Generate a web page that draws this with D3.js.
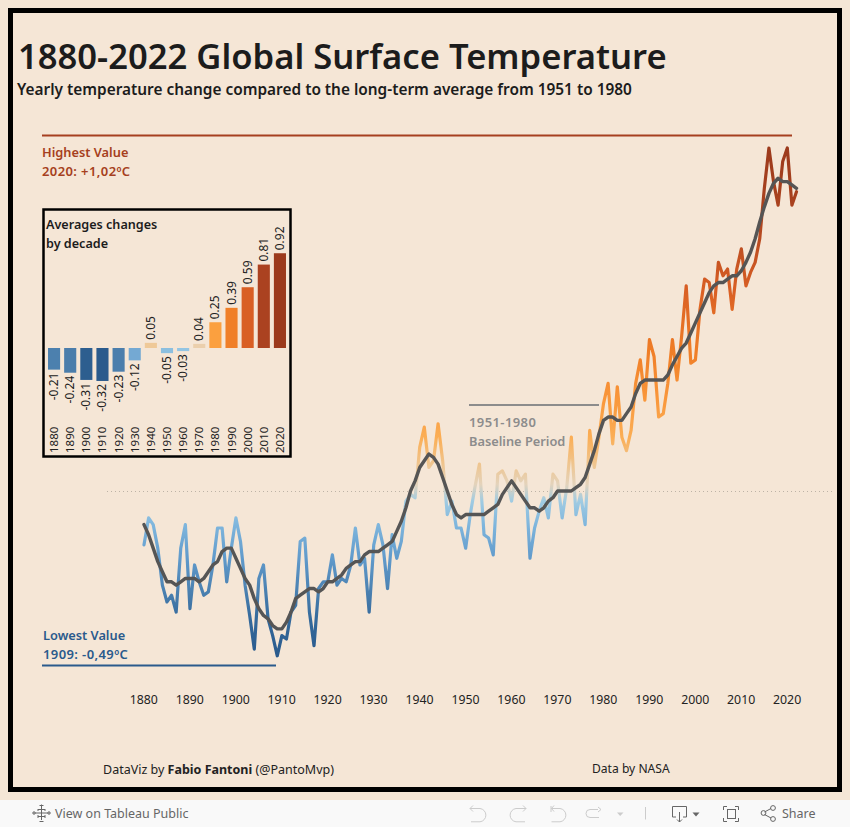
<!DOCTYPE html>
<html><head><meta charset="utf-8">
<script src="https://cdn.jsdelivr.net/npm/d3@7"></script>
<style>
html,body{margin:0;padding:0;background:#f5e6d6;overflow:hidden}
svg{display:block}
text{font-family:"Noto Sans",sans-serif}
</style></head><body>
<svg id="c" width="850" height="827"></svg>
<script>
const startYear = 1880;
const annual = [-0.16,-0.08,-0.10,-0.17,-0.28,-0.33,-0.31,-0.36,-0.17,-0.10,
-0.35,-0.22,-0.27,-0.31,-0.30,-0.22,-0.11,-0.11,-0.27,-0.17,
-0.08,-0.15,-0.28,-0.37,-0.47,-0.26,-0.22,-0.38,-0.43,-0.49,
-0.43,-0.44,-0.36,-0.34,-0.15,-0.14,-0.36,-0.46,-0.29,-0.27,
-0.27,-0.19,-0.28,-0.26,-0.27,-0.22,-0.11,-0.22,-0.20,-0.36,
-0.16,-0.10,-0.16,-0.29,-0.13,-0.20,-0.15,-0.03,-0.01,-0.02,
0.13,0.19,0.07,0.09,0.20,0.09,-0.07,-0.03,-0.11,-0.11,
-0.17,-0.07,0.01,0.08,-0.13,-0.14,-0.19,0.05,0.06,0.03,
-0.03,0.06,0.03,0.05,-0.20,-0.11,-0.06,-0.02,-0.08,0.05,
0.03,-0.08,0.01,0.16,-0.07,-0.01,-0.10,0.18,0.07,0.16,
0.26,0.32,0.14,0.31,0.16,0.12,0.18,0.32,0.39,0.27,
0.45,0.40,0.22,0.23,0.32,0.45,0.33,0.46,0.61,0.38,
0.39,0.54,0.63,0.62,0.53,0.68,0.64,0.66,0.54,0.66,
0.72,0.61,0.65,0.68,0.75,0.90,1.02,0.92,0.85,0.98,
1.02,0.85,0.89];
const smooth = [-0.10,-0.13,-0.17,-0.21,-0.24,-0.27,-0.27,-0.28,-0.27,-0.26,
-0.26,-0.26,-0.27,-0.26,-0.24,-0.22,-0.21,-0.18,-0.17,-0.17,
-0.20,-0.23,-0.26,-0.28,-0.32,-0.35,-0.37,-0.38,-0.40,-0.41,
-0.41,-0.39,-0.36,-0.32,-0.31,-0.30,-0.29,-0.29,-0.30,-0.29,
-0.27,-0.27,-0.26,-0.25,-0.23,-0.22,-0.21,-0.21,-0.19,-0.18,
-0.18,-0.18,-0.17,-0.16,-0.15,-0.12,-0.09,-0.05,0.00,0.03,
0.07,0.09,0.11,0.10,0.08,0.04,0.00,-0.04,-0.07,-0.08,
-0.07,-0.07,-0.07,-0.07,-0.07,-0.06,-0.05,-0.04,-0.01,0.01,
0.03,0.01,-0.01,-0.03,-0.05,-0.05,-0.06,-0.05,-0.03,-0.02,
0.00,0.00,0.00,0.00,0.01,0.02,0.04,0.08,0.12,0.17,
0.21,0.22,0.22,0.21,0.21,0.23,0.25,0.29,0.32,0.33,
0.33,0.33,0.33,0.33,0.345,0.375,0.40,0.425,0.44,0.47,
0.50,0.53,0.56,0.59,0.61,0.62,0.62,0.63,0.64,0.64,
0.655,0.68,0.71,0.75,0.80,0.845,0.885,0.915,0.93,0.92,
0.92,0.91,0.90];
const axisYears = d3.range(1880,2021,10);
const decades = ["1880","1890","1900","1910","1920","1930","1940","1950","1960","1970","1980","1990","2000","2010","2020"];
const decadeValues = [-0.21,-0.24,-0.31,-0.32,-0.23,-0.12,0.05,-0.05,-0.03,0.04,0.25,0.39,0.59,0.81,0.92];

const colorStops = [
 [-0.49,"#2a5a8c"],[-0.38,"#356a9c"],[-0.30,"#4a80b0"],[-0.20,"#609acb"],[-0.10,"#7fb6dd"],[-0.03,"#a0cbe2"],
 [0.02,"#e4d3bb"],[0.08,"#efc58f"],[0.16,"#fbae55"],[0.28,"#f9963a"],[0.42,"#ef7d27"],
 [0.60,"#d95f24"],[0.80,"#ae4520"],[1.02,"#9c3a1c"]];
const barStops = [
 [-0.32,"#2a5a8c"],[-0.31,"#2d5e8f"],[-0.24,"#4a7dab"],[-0.21,"#4c80ae"],[-0.12,"#74a9d3"],[-0.03,"#93c5e3"],
 [0.04,"#ebcfac"],[0.05,"#efc998"],[0.25,"#fba03f"],[0.39,"#f07f28"],[0.59,"#d95f24"],[0.81,"#ab4220"],[0.92,"#9c3a1c"]];
const barColor = d3.scaleLinear().domain(barStops.map(d=>d[0])).range(barStops.map(d=>d[1]));

const svg = d3.select("#c");
const x = d3.scaleLinear().domain([1880,2020]).range([144,787.3]);
const y = d3.scaleLinear().domain([0,1.02]).range([491,148]);

// Frame
svg.append("rect").attr("x",10.5).attr("y",10.5).attr("width",829).attr("height",779)
  .attr("fill","none").attr("stroke","#000").attr("stroke-width",5);

// Titles
svg.append("text").attr("x",18).attr("y",69).attr("font-size",34.6).attr("font-weight",600).attr("fill","#1c1c1c")
  .text("1880-2022 Global Surface Temperature");
svg.append("text").attr("x",17).attr("y",95).attr("font-size",15.4).attr("font-weight",600).attr("fill","#1c1c1c")
  .text("Yearly temperature change compared to the long-term average from 1951 to 1980");

// Gradient
const defs = svg.append("defs");
const grad = defs.append("linearGradient").attr("id","tempGrad").attr("gradientUnits","userSpaceOnUse")
  .attr("x1",0).attr("x2",0).attr("y1",y(-0.49)).attr("y2",y(1.02));
grad.selectAll("stop").data(colorStops).join("stop")
  .attr("offset",d=>(d[0]+0.49)/1.51).attr("stop-color",d=>d[1]);

// Reference lines
svg.append("line").attr("x1",107).attr("x2",832).attr("y1",491.5).attr("y2",491.5)
  .attr("stroke","#bdb3a6").attr("stroke-width",1).attr("stroke-dasharray","1 3");
svg.append("line").attr("x1",42).attr("x2",792).attr("y1",135.5).attr("y2",135.5).attr("stroke","#a63f20").attr("stroke-width",2);
svg.append("line").attr("x1",42).attr("x2",276).attr("y1",665.5).attr("y2",665.5).attr("stroke","#2a5a8c").attr("stroke-width",2);
svg.append("line").attr("x1",469).attr("x2",599).attr("y1",405).attr("y2",405).attr("stroke","#8c8c8c").attr("stroke-width",2);

const note=(tx,ty,t,c,fs,ls)=>svg.append("text").attr("x",tx).attr("y",ty).attr("font-size",fs||12.8).attr("font-weight",600)
  .attr("letter-spacing",ls||0).attr("fill",c).text(t);
note(42,157,"Highest Value","#a63f20");
note(42,176,"2020: +1,02ºC","#a63f20",13,0.4);
note(43,640,"Lowest Value","#2a5a8c");
note(43,659,"1909: -0,49ºC","#2a5a8c",13,0.4);
note(469,427,"1951-1980","#8c8c8c",13,0.4);
note(469,446,"Baseline Period","#8c8c8c");

// Lines
const line = d3.line().x((d,i)=>x(startYear+i)).y(d=>y(d));
svg.append("path").attr("d",line(annual)).attr("fill","none").attr("stroke","url(#tempGrad)")
  .attr("stroke-width",3.2).attr("stroke-linejoin","round").attr("stroke-linecap","round");
svg.append("path").attr("d",line(smooth)).attr("fill","none").attr("stroke","#555")
  .attr("stroke-width",3.4).attr("stroke-linejoin","round").attr("stroke-linecap","round");

// X axis
const ax = svg.append("g").attr("transform","translate(-0.7,692.5)")
  .call(d3.axisBottom(x).tickValues(axisYears).tickFormat(d3.format("d")).tickSize(0).tickPadding(0));
ax.select(".domain").remove();
ax.selectAll("text").attr("font-size",12.3).attr("fill","#222").attr("dy","0.9em").style("font-family",'"Noto Sans",sans-serif');

// Inset
svg.append("rect").attr("x",43.5).attr("y",209.5).attr("width",247).attr("height",247)
  .attr("fill","none").attr("stroke","#000").attr("stroke-width",2.5);
svg.append("text").attr("x",46).attr("y",229).attr("font-size",12.6).attr("font-weight",600).attr("fill","#1c1c1c").text("Averages changes");
svg.append("text").attr("x",46).attr("y",248).attr("font-size",12.6).attr("font-weight",600).attr("fill","#1c1c1c").text("by decade");

const bx = d3.scaleBand().domain(decades).range([46,288]).paddingInner(0.25).paddingOuter(0.125);
const by = d3.scaleLinear().domain([0,1]).range([348,245]);
svg.append("g").selectAll("rect").data(decades).join("rect")
  .attr("x",d=>bx(d)).attr("width",bx.bandwidth())
  .attr("y",(d,i)=>Math.min(by(0),by(decadeValues[i])))
  .attr("height",(d,i)=>Math.abs(by(decadeValues[i])-by(0)))
  .attr("fill",(d,i)=>barColor(decadeValues[i]));
svg.append("g").selectAll("text").data(decades).join("text")
  .attr("transform",(d,i)=>{
    const v=decadeValues[i], px=bx(d)+bx.bandwidth()/2, py=by(v)+(v>0?-3:3);
    return `translate(${px+4},${py}) rotate(-90)`;})
  .attr("text-anchor",(d,i)=>decadeValues[i]>0?"start":"end")
  .attr("font-size",12).attr("fill","#222")
  .text((d,i)=>decadeValues[i].toFixed(2));
svg.append("g").selectAll("text").data(decades).join("text")
  .attr("transform",d=>`translate(${bx(d)+bx.bandwidth()/2+4},453) rotate(-90)`)
  .attr("font-size",11.5).attr("fill","#222").text(d=>d);

// Credits
const cred = svg.append("text").attr("x",103).attr("y",774).attr("font-size",12.5).attr("fill","#222");
cred.append("tspan").text("DataViz by ");
cred.append("tspan").attr("font-weight",700).text("Fabio Fantoni");
cred.append("tspan").text(" (@PantoMvp)");
svg.append("text").attr("x",592).attr("y",773).attr("font-size",12.1).attr("fill","#222").text("Data by NASA");

// Toolbar
const tb = svg.append("g");
tb.append("rect").attr("x",0).attr("y",800).attr("width",850).attr("height",27).attr("fill","#f9f9f9");
tb.append("text").attr("x",55).attr("y",818).attr("font-size",12.5).attr("fill","#666").text("View on Tableau Public");
tb.append("text").attr("x",782).attr("y",818).attr("font-size",12.5).attr("fill","#666").text("Share");
const ic=(d,c,w)=>tb.append("path").attr("d",d).attr("fill","none").attr("stroke",c).attr("stroke-width",w||1);
// Tableau mark
ic("M41.5,806V820M35,813H48M38,809.5H45M38,816.5H45M38,809V811M45,809V811M38,815V818M45,815V818M41.5,804.5V806M34,811V815M49,811V815M32,813H36M47,813H51M39.5,805.5H43.5M39.5,821.5H43.5","#666");
// Undo, redo, revert, forward
ic("M473,805.5L470,808.5L473,811.5M470,808.5H480a6.7,6.7 0 0 1 0,13.3H471","#ccc");
ic("M523,805.5L526,808.5L523,811.5M526,808.5H516a6.7,6.7 0 0 0 0,13.3H525","#ccc");
ic("M551,806V812M554,805.5L551.5,808.5L554,811.5M551.5,808.5H560a6.7,6.7 0 0 1 0,13.3H551.5","#ccc");
ic("M590,809.5H598M598,807L601,809.5L598,812M599,817.5H590a4,4 0 0 1 0,-8","#ccc");
tb.append("path").attr("d","M617,812.5H623.5L620.2,816Z").attr("fill","#ccc");
ic("M645.5,807V819.5","#ccc");
// Download
ic("M676,817H672.5V806.5H686.5V817H683M679.5,812V822M677,819.5L679.5,822L682,819.5","#666");
tb.append("path").attr("d","M692.5,812.5H699.5L696,816.5Z").attr("fill","#666");
// Fullscreen
ic("M723.5,810V806.5H727M735,806.5H738.5V810M738.5,818V821.5H735M727,821.5H723.5V818","#666");
tb.append("rect").attr("x",727.5).attr("y",809.5).attr("width",8).attr("height",9).attr("fill","none").attr("stroke","#666");
// Share icon
ic("M764.5,812L771,808.5M764.5,814.5L771,818","#666");
[[763.5,813],[773,808],[773,819]].forEach(p=>tb.append("circle").attr("cx",p[0]).attr("cy",p[1]).attr("r",2.4).attr("fill","none").attr("stroke","#666"));
</script></body></html>
